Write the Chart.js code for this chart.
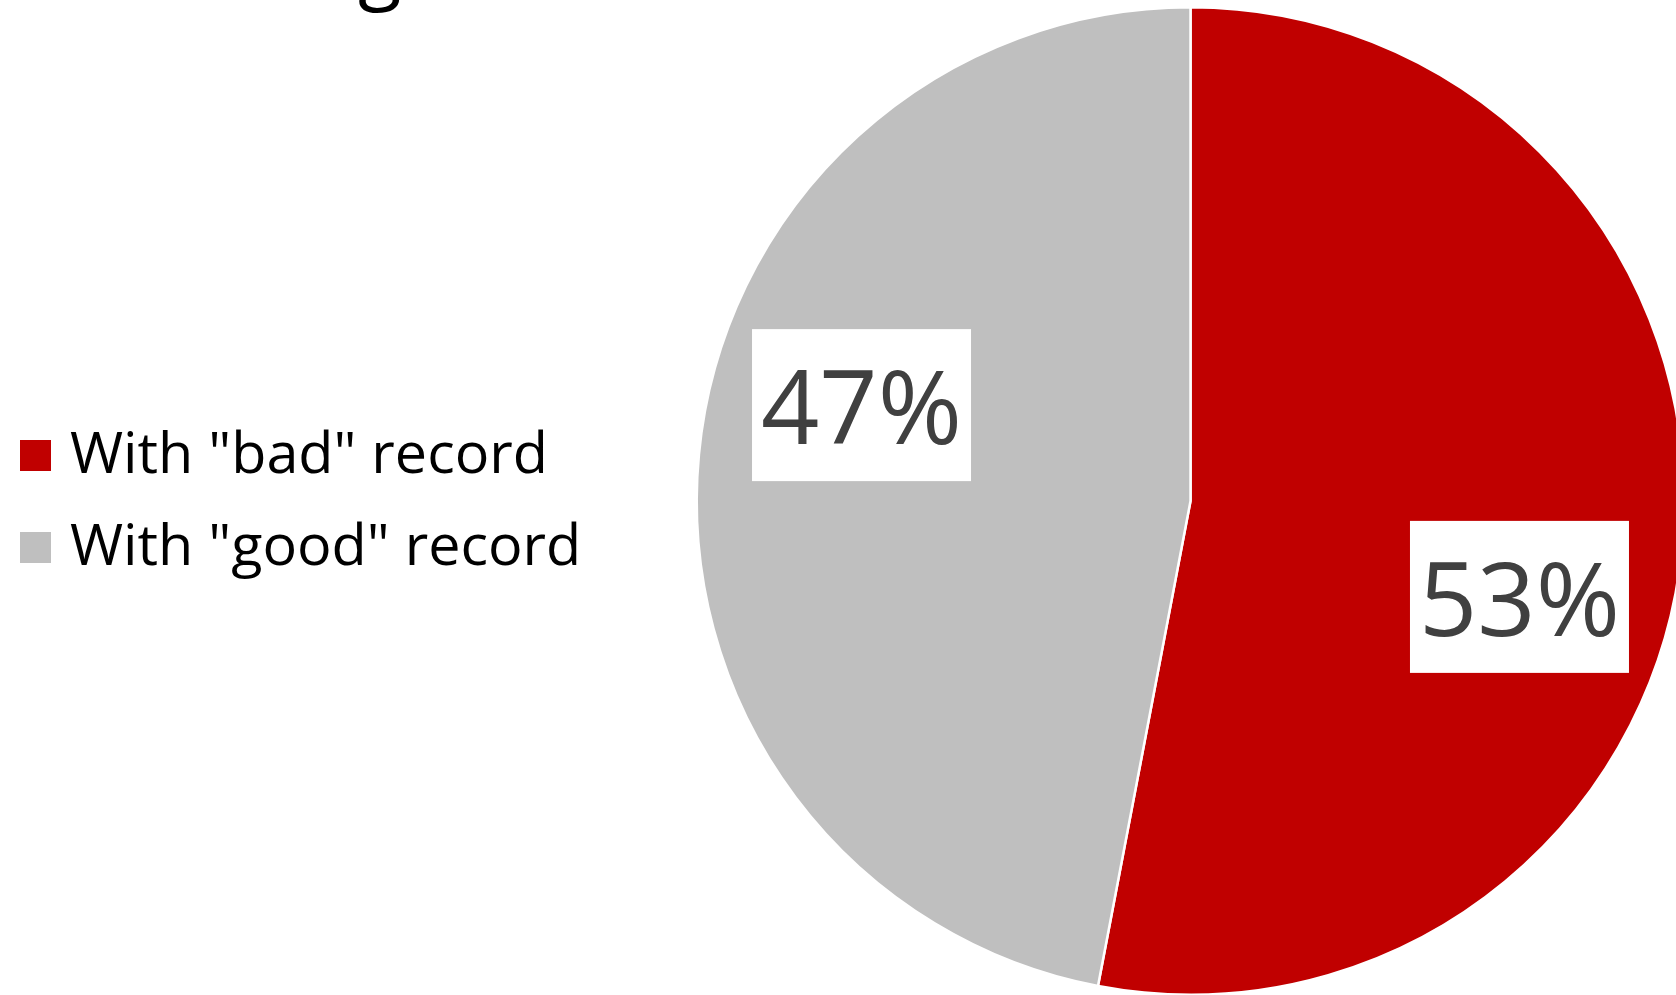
<!DOCTYPE html>
<html>
<head>
<meta charset="utf-8">
<script src="https://cdn.jsdelivr.net/npm/chart.js@4.4.1/dist/chart.umd.min.js"></script>
<style>
  html, body { margin: 0; padding: 0; background: #fff; overflow: hidden; }
  #wrap { position: absolute; left: 0; top: 0; width: 1700px; height: 1010px; }
</style>
</head>
<body>
<div id="wrap"><canvas id="pie"></canvas></div>
<script>
"use strict";

// data
const TITLE = 'Driving record';
const LABELS = ['With "bad" record', 'With "good" record'];
const VALUES = [53, 47];
const COLORS = ['#C00000', '#BFBFBF'];

const FONT = '"Open Sans", "Noto Sans", sans-serif';
const LABEL_SHIFT = 10.85 * Math.PI / 180; // labels sit a bit clockwise of slice middle
const LABEL_RADIUS = 0.694;

// white boxes with the percentages
const labelBoxes = {
  id: 'labelBoxes',
  afterDatasetsDraw(chart) {
    const ctx = chart.ctx;
    const arcs = chart.getDatasetMeta(0).data;
    const total = VALUES.reduce((a, b) => a + b, 0);
    ctx.save();
    ctx.font = '102px ' + FONT;
    ctx.textAlign = 'center';
    ctx.textBaseline = 'alphabetic';
    arcs.forEach((arc, i) => {
      const p = arc.getProps(['x', 'y', 'startAngle', 'endAngle', 'outerRadius'], true);
      const a = (p.startAngle + p.endAngle) / 2 + LABEL_SHIFT;
      const cx = p.x + Math.cos(a) * p.outerRadius * LABEL_RADIUS;
      const cy = p.y + Math.sin(a) * p.outerRadius * LABEL_RADIUS;
      ctx.fillStyle = '#fff';
      ctx.fillRect(cx - 109.5, cy - 76, 219, 152);
      ctx.fillStyle = '#404040';
      ctx.fillText(Math.round(VALUES[i] / total * 100) + '%', cx, cy + 39);
    });
    ctx.restore();
  }
};

// legend on the left + title cut off at the top
const sideLegend = {
  id: 'sideLegend',
  afterDraw(chart) {
    const ctx = chart.ctx;
    ctx.save();
    ctx.font = '57.5px ' + FONT;
    ctx.textAlign = 'left';
    ctx.textBaseline = 'alphabetic';
    LABELS.forEach((label, i) => {
      const top = 440 + i * 92;
      ctx.fillStyle = COLORS[i];
      ctx.fillRect(20, top, 31, 31);
      ctx.fillStyle = '#000';
      ctx.fillText(label, 70, top + 32.5);
    });

    ctx.font = '80px ' + FONT;
    const gx = 358 - ctx.measureText(TITLE.slice(0, TITLE.indexOf('g'))).width;
    ctx.fillText(TITLE, gx, -6);
    ctx.restore();
  }
};

const canvas = document.getElementById('pie');

new Chart(canvas, {
  type: 'pie',
  data: {
    labels: LABELS,
    datasets: [{
      data: VALUES,
      backgroundColor: COLORS,
      borderColor: '#fff',
      borderWidth: 2.5
    }]
  },
  options: {
    responsive: true,
    maintainAspectRatio: false,
    animation: false,
    events: [],
    layout: {
      padding: { left: 695.5, right: 14.5, top: 6, bottom: 14 }
    },
    plugins: {
      legend: { display: false },
      tooltip: { enabled: false },
      title: { display: false }
    }
  },
  plugins: [labelBoxes, sideLegend]
});
</script>
</body>
</html>
